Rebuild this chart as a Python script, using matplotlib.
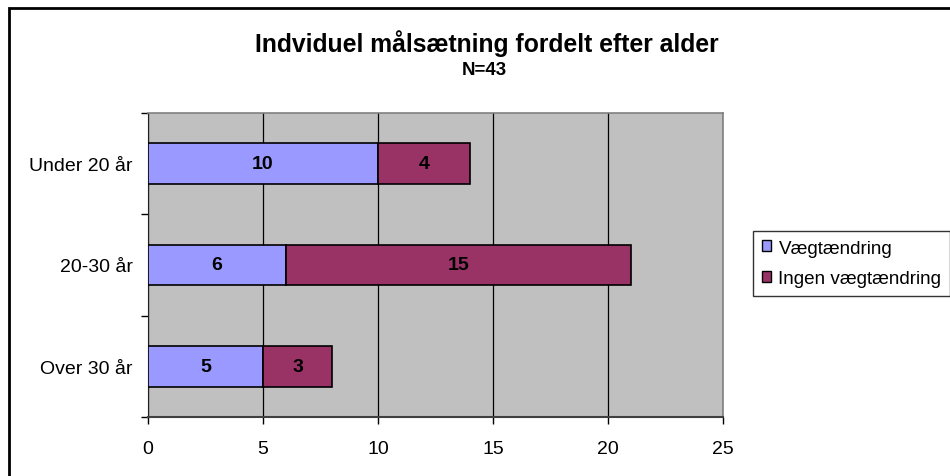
import matplotlib
matplotlib.use("Agg")
from matplotlib import pyplot as plt
from matplotlib.patches import Rectangle, Patch
import numpy as np

plt.rcParams['font.family'] = ['Liberation Sans', 'DejaVu Sans']

categories = ["Under 20 år", "20-30 år", "Over 30 år"]
vaegt = [10, 6, 5]
ingen = [4, 15, 3]
series_names = ["Vægtændring", "Ingen vægtændring"]
title = "Indviduel målsætning fordelt efter alder"
subtitle = "N=43"

c_blue = "#9999FF"
c_red = "#993366"

fig = plt.figure(figsize=(9.5, 4.77), dpi=100)
ax = fig.add_axes([148/950, 1 - 418/477, 575/950, 304/477])
ax.set_facecolor("#C0C0C0")

ypos = np.arange(len(categories))[::-1]
b1 = ax.barh(ypos, vaegt, height=0.40, color=c_blue, edgecolor="black", linewidth=1.2, zorder=3)
b2 = ax.barh(ypos, ingen, left=vaegt, height=0.40, color=c_red, edgecolor="black", linewidth=1.2, zorder=3)

for vals, lefts in [(vaegt, [0]*3), (ingen, vaegt)]:
	for y, v, l in zip(ypos, vals, lefts):
		ax.text(l + v/2, y, str(v), ha="center", va="center", fontsize=14, fontweight="bold", zorder=4)

ax.set_xlim(0, 25)
ax.set_ylim(-0.5, 2.5)
ax.set_xticks([0, 5, 10, 15, 20, 25])
ax.set_yticks(ypos)
ax.set_yticklabels(categories)
ax.set_yticks([-0.5, 0.5, 1.5, 2.5], minor=True)
ax.tick_params(axis="y", which="major", length=0, pad=11, labelsize=14)
ax.tick_params(axis="y", which="minor", length=5, width=1, direction="out")
ax.tick_params(axis="x", length=5, width=1, direction="out", pad=11.5, labelsize=14)

ax.xaxis.grid(True, color="black", linewidth=0.9, zorder=1)
ax.set_axisbelow(True)

for s in ["top", "right"]:
	ax.spines[s].set_color("#808080")
	ax.spines[s].set_linewidth(1.2)
ax.spines["left"].set_color("#202020")
ax.spines["bottom"].set_color("#404040")
ax.spines["bottom"].set_linewidth(1.5)

fig.text(487/950, 1 - 52/477, title, ha="center", va="baseline", fontsize=17.8, fontweight="bold")
fig.text(484/950, 1 - 75/477, subtitle, ha="center", va="baseline", fontsize=13.5, fontweight="bold")

handles = [Patch(facecolor=c_blue, edgecolor="black", linewidth=1), Patch(facecolor=c_red, edgecolor="black", linewidth=1)]
leg = fig.legend(handles, series_names, loc="upper left", bbox_to_anchor=(753/950, 1 - 232/477),
	fontsize=13.6, frameon=True, fancybox=False, shadow=False, borderaxespad=0,
	handlelength=0.5, handleheight=0.5, handletextpad=0.4, labelspacing=0.72, borderpad=0.45)
leg.get_frame().set_edgecolor("black")
leg.get_frame().set_linewidth(1)

border = Rectangle((8.5/950, -0.5), 2, 1.5 - 8.5/477, transform=fig.transFigure,
	fill=False, edgecolor="black", linewidth=2, clip_on=False)
fig.add_artist(border)

fig.savefig("out.png", dpi=100)
